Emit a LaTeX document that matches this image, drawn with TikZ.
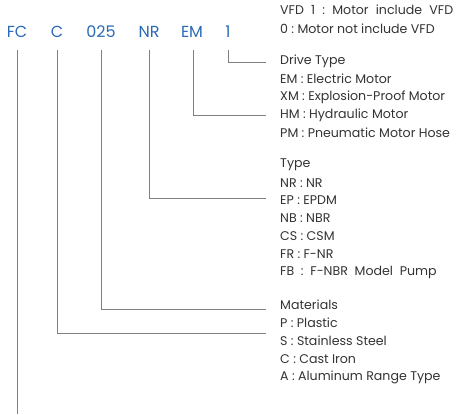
\documentclass[tikz,border=0pt]{standalone}
\usepackage{fontspec}
\setmainfont{Poppins}
\frenchspacing
\definecolor{codeblue}{HTML}{2A6AB5}
\definecolor{txt}{HTML}{333333}
\definecolor{ln}{HTML}{808080}
\begin{document}
\begin{tikzpicture}[x=1pt,y=-1pt,
  code/.style={text=codeblue,font=\fontsize{16}{18}\selectfont,inner sep=0pt,anchor=center},
  lbl/.style={text=txt,font=\fontsize{12.6}{14}\selectfont,inner sep=0pt,anchor=west},
  conn/.style={draw=ln,line width=0.8pt}]
\useasboundingbox (0,0) rectangle (462,414);
\node[code] (fc) at (17,32) {FC};
\node[code] (c) at (57,32) {C};
\node[code] (n025) at (101,32) {025};
\node[code] (nr) at (149,32) {NR};
\node[code] (em) at (192,32) {EM};
\node[code] (one) at (228,32) {1};
\coordinate (tick) at (0,50);

\node[lbl] (vfd1) at (280,10) {\frenchspacing\makebox[173pt][s]{VFD 1 : Motor include VFD}};
\node[lbl] (vfd0) at (280,29) {0 : Motor not include VFD};
\node[lbl] (dt) at (280,61) {Drive Type};
\node[lbl] (dt1) at (280,79) {EM : Electric Motor};
\node[lbl] (dt2) at (280,97) {XM : Explosion-Proof Motor};
\node[lbl] (dt3) at (280,115) {HM : Hydraulic Motor};
\node[lbl] (dt4) at (280,133) {PM : Pneumatic Motor Hose};
\node[lbl] (ty) at (280,165) {Type};
\node[lbl] (ty1) at (280,183) {NR : NR};
\node[lbl] (ty2) at (280,200) {EP : EPDM};
\node[lbl] (ty3) at (280,218) {NB : NBR};
\node[lbl] (ty4) at (280,236) {CS : CSM};
\node[lbl] (ty5) at (280,254) {FR : F-NR};
\node[lbl] (ty6) at (280,272) {FB \ : \ F-NBR \ Model \ Pump};
\node[lbl] (ma) at (280,305) {Materials};
\node[lbl] (ma1) at (280,323) {P : Plastic};
\node[lbl] (ma2) at (280,341) {S : Stainless Steel};
\node[lbl] (ma3) at (280,359) {C : Cast Iron};
\node[lbl] (ma4) at (280,377) {A : Aluminum Range Type};

\coordinate (e1) at (266,62);
\coordinate (e2) at (266,115);
\coordinate (e3) at (266,198);
\coordinate (e4) at (266,309);
\coordinate (e5) at (266,333);
\coordinate (e6) at (17,414);

\draw[conn] (one |- tick) |- (e1);
\draw[conn] ([xshift=1pt]em.center |- tick) |- (e2);
\draw[conn] (nr |- tick) |- (e3);
\draw[conn] (n025 |- tick) |- (e4);
\draw[conn] (c |- tick) |- (e5);
\draw[conn] (fc |- tick) -- (e6);
\end{tikzpicture}
\end{document}
